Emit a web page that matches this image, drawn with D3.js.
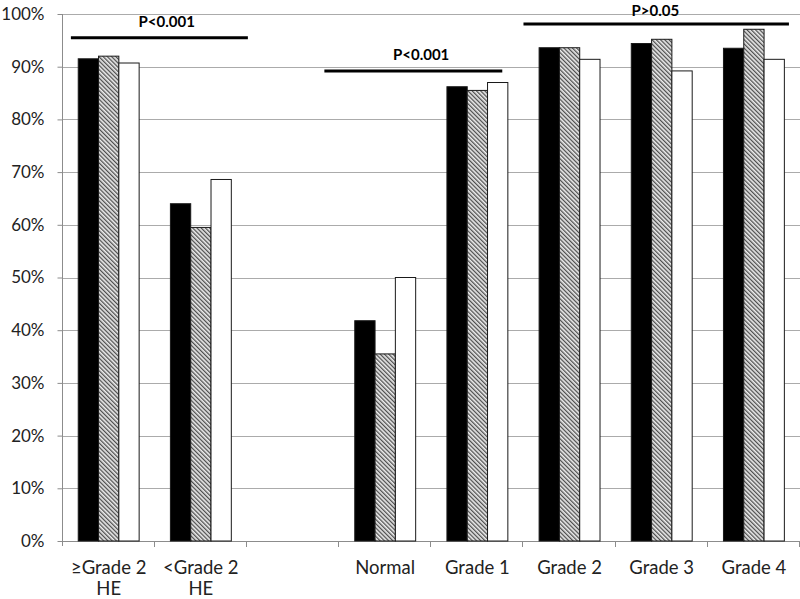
<!DOCTYPE html>
<html>
<head>
<meta charset="utf-8">
<script src="https://cdn.jsdelivr.net/npm/d3@7"></script>
<style>
  body { margin: 0; background: #fff; }
  svg { display: block; }
</style>
</head>
<body>
<div id="chart"></div>
<script>
// categories along the x axis (third slot is an empty gap)
var categories = ["≥Grade 2|HE", "<Grade 2|HE", "", "Normal", "Grade 1", "Grade 2", "Grade 3", "Grade 4"];
var seriesNames = ["black", "hatched", "white"];

// values in %
var blackValues   = [91.5, 64.0, null, 41.8, 86.2, 93.6, 94.4, 93.5];
var hatchedValues = [92.0, 59.5, null, 35.5, 85.5, 93.6, 95.2, 97.1];
var whiteValues   = [90.7, 68.6, null, 50.0, 87.0, 91.4, 89.2, 91.4];

var yTicks = [0, 10, 20, 30, 40, 50, 60, 70, 80, 90, 100];

// significance brackets: label, start/end in category units, height in %
var bracketLabels = ["P<0.001", "P<0.001", "P>0.05"];
var bracketFrom   = [0.09, 2.84, 5.0];
var bracketTo     = [2.01, 4.77, 7.88];
var bracketLevel  = [95.5, 89.2, 98.1];
var labelAt       = [1.13, 3.89, 6.43];
var labelLevel    = [97.8, 91.4, 99.9];

var width = 800, height = 599;
var margin = {left: 62.6, right: 0, top: 14, bottom: 58};

var svg = d3.select("#chart").append("svg")
    .attr("width", width)
    .attr("height", height);

var defs = svg.append("defs");
var pat = defs.append("pattern")
    .attr("id", "hatch")
    .attr("patternUnits", "userSpaceOnUse")
    .attr("width", 3)
    .attr("height", 3)
    .attr("patternTransform", "rotate(-45)");
pat.append("rect").attr("width", 3).attr("height", 3).attr("fill", "#ececec");
pat.append("line")
    .attr("x1", 0.7).attr("y1", 0).attr("x2", 0.7).attr("y2", 3)
    .attr("stroke", "#333").attr("stroke-width", 1.1);

var x0 = d3.scaleBand()
    .domain(d3.range(categories.length))
    .range([margin.left, width - margin.right]);
var x1 = d3.scaleBand()
    .domain(seriesNames)
    .range([0, x0.bandwidth()])
    .paddingOuter(0.77);
var xc = d3.scaleLinear() // category units -> px, used for brackets
    .domain([0, categories.length])
    .range([margin.left, width - margin.right]);
var y = d3.scaleLinear()
    .domain([0, 100])
    .range([height - margin.bottom, margin.top]);

// grid lines
svg.append("g").selectAll("line").data(yTicks.slice(1))
    .enter().append("line")
    .attr("x1", margin.left).attr("x2", width)
    .attr("y1", function(d) { return Math.round(y(d)) + 0.5; })
    .attr("y2", function(d) { return Math.round(y(d)) + 0.5; })
    .attr("stroke", "#ababab").attr("stroke-width", 1);

// y axis
var yAxis = svg.append("g")
    .attr("transform", "translate(" + (Math.round(margin.left) - 0.5) + ",0)")
    .call(d3.axisLeft(y).tickValues(yTicks).tickSize(5).tickPadding(13)
        .tickFormat(function(d) { return d + "%"; }));
yAxis.select(".domain").remove();
yAxis.append("line")
    .attr("y1", y(100)).attr("y2", y(0) + 5)
    .attr("stroke", "#8c8c8c");
yAxis.selectAll(".tick line").attr("stroke", "#8c8c8c");
yAxis.selectAll(".tick text")
    .attr("fill", "#222")
    .style("font-family", "Lato, 'Open Sans', sans-serif")
    .style("font-size", "17px");

// x axis baseline and ticks at band edges
var xAxis = svg.append("g");
xAxis.append("line")
    .attr("x1", margin.left).attr("x2", width)
    .attr("y1", Math.round(y(0)) + 0.5).attr("y2", Math.round(y(0)) + 0.5)
    .attr("stroke", "#8c8c8c");
xAxis.selectAll(".xtick").data(d3.range(1, categories.length + 1))
    .enter().append("line")
    .attr("class", "xtick")
    .attr("x1", function(d) { return Math.round(xc(d)) - 0.5; })
    .attr("x2", function(d) { return Math.round(xc(d)) - 0.5; })
    .attr("y1", y(0)).attr("y2", y(0) + 6)
    .attr("stroke", "#8c8c8c");

var labels = xAxis.selectAll(".xlabel").data(categories)
    .enter().append("text")
    .attr("class", "xlabel")
    .attr("text-anchor", "middle")
    .attr("fill", "#222")
    .style("font-family", "Lato, 'Open Sans', sans-serif")
    .style("font-size", "18.5px");
labels.each(function(d, i) {
    var parts = d.split("|");
    var t = d3.select(this);
    parts.forEach(function(p, j) {
        t.append("tspan")
            .attr("x", x0(i) + x0.bandwidth() / 2)
            .attr("y", y(0) + 33 + j * 20.5)
            .text(p);
    });
});

// bars
var rows = categories.map(function(c, i) {
    return [
        {key: "black", value: blackValues[i]},
        {key: "hatched", value: hatchedValues[i]},
        {key: "white", value: whiteValues[i]}
    ];
});
var fills = {black: "#000", hatched: "url(#hatch)", white: "#fff"};

var groups = svg.append("g").selectAll("g").data(rows)
    .enter().append("g")
    .attr("transform", function(d, i) { return "translate(" + x0(i) + ",0)"; });
groups.selectAll("rect")
    .data(function(d) { return d.filter(function(v) { return v.value != null; }); })
    .enter().append("rect")
    .attr("x", function(d) { return x1(d.key); })
    .attr("y", function(d) { return y(d.value); })
    .attr("width", x1.bandwidth())
    .attr("height", function(d) { return y(0) - y(d.value); })
    .attr("fill", function(d) { return fills[d.key]; })
    .attr("stroke", "#1a1a1a")
    .attr("stroke-width", 1);

// significance brackets
var br = svg.append("g");
br.selectAll("line").data(bracketLabels)
    .enter().append("line")
    .attr("x1", function(d, i) { return xc(bracketFrom[i]); })
    .attr("x2", function(d, i) { return xc(bracketTo[i]); })
    .attr("y1", function(d, i) { return y(bracketLevel[i]); })
    .attr("y2", function(d, i) { return y(bracketLevel[i]); })
    .attr("stroke", "#000").attr("stroke-width", 3);
br.selectAll("text").data(bracketLabels)
    .enter().append("text")
    .attr("x", function(d, i) { return xc(labelAt[i]); })
    .attr("y", function(d, i) { return y(labelLevel[i]) + 1; })
    .attr("text-anchor", "middle")
    .attr("fill", "#000")
    .style("font-family", "Lato, 'Open Sans', sans-serif")
    .style("font-weight", "bold")
    .style("font-size", "15px")
    .text(function(d) { return d; });
</script>
</body>
</html>
